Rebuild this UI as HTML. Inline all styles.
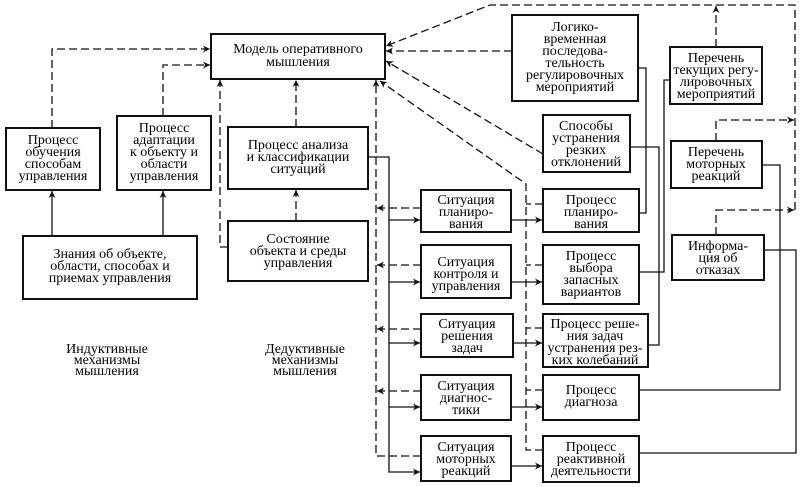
<!DOCTYPE html>
<html><head><meta charset="utf-8"><style>
html,body{margin:0;padding:0;background:#fff}
svg{display:block}
text{font-family:"Liberation Serif",serif;font-size:14px;fill:#000;text-anchor:middle}
.b{fill:#fff;stroke:#111;stroke-width:2}
.s{fill:none;stroke:#111;stroke-width:1.3}
.d{fill:none;stroke:#111;stroke-width:1.3;stroke-dasharray:8,4}
</style></head><body>
<svg width="800" height="487" viewBox="0 0 800 487" xmlns="http://www.w3.org/2000/svg">
<defs><marker id="a" viewBox="0 0 10 10" refX="10" refY="5" markerWidth="9" markerHeight="7" orient="auto" markerUnits="userSpaceOnUse"><path d="M0,0 L10,5 L0,10 L3,5 z" fill="#111"/></marker></defs>

<path class="d" d="M52,128 V49 H210" marker-end="url(#a)"/>
<path class="d" d="M163,116 V65 H210" marker-end="url(#a)"/>
<path class="s" d="M52,236 V191" marker-end="url(#a)"/>
<path class="s" d="M163,236 V191" marker-end="url(#a)"/>
<path class="d" d="M296,127 V80" marker-end="url(#a)"/>
<path class="d" d="M296,221 V190" marker-end="url(#a)"/>
<path class="d" d="M228,247 H220 V80" marker-end="url(#a)"/>

<path class="d" d="M421,456 H376 V80" marker-end="url(#a)"/>
<path class="s" d="M368,157 H389 V472 H420" marker-end="url(#a)"/>
<path class="d" d="M421,208 H377" marker-end="url(#a)"/>
<path class="d" d="M421,265 H377" marker-end="url(#a)"/>
<path class="d" d="M421,329 H377" marker-end="url(#a)"/>
<path class="d" d="M421,391 H377" marker-end="url(#a)"/>
<path class="s" d="M389,220 H420" marker-end="url(#a)"/>
<path class="s" d="M389,282 H420" marker-end="url(#a)"/>
<path class="s" d="M389,343 H420" marker-end="url(#a)"/>
<path class="s" d="M389,407 H420" marker-end="url(#a)"/>
<path class="s" d="M511,220 H542" marker-end="url(#a)"/>
<path class="s" d="M511,282 H542" marker-end="url(#a)"/>
<path class="s" d="M513,343 H542" marker-end="url(#a)"/>
<path class="s" d="M511,407 H542" marker-end="url(#a)"/>
<path class="s" d="M511,466 H542" marker-end="url(#a)"/>

<path class="d" d="M543,450 H526 V184 L380,81" marker-end="url(#a)"/>
<path class="d" d="M543,204 H526"/>
<path class="d" d="M543,265 H526"/>
<path class="d" d="M543,328 H526"/>
<path class="d" d="M543,390 H526"/>

<path class="d" d="M512,51 H386" marker-end="url(#a)" stroke-dasharray="10,3,2,3"/>
<path class="d" d="M543,154 L386,61" marker-end="url(#a)" stroke-dasharray="14,3"/>
<path class="d" d="M716,47 V6" marker-end="url(#a)"/>
<path class="d" d="M795,210 V5 H490 L386,46" marker-end="url(#a)"/>
<path class="d" d="M716,141 V120 H794" marker-end="url(#a)"/>
<path class="d" d="M716,235 V210 H794" marker-end="url(#a)"/>

<path class="s" d="M638,68 H646 V213 H639"/>
<path class="s" d="M630,147 H659 V345 H648"/>
<path class="s" d="M670,80 H664 V272 H639"/>
<path class="s" d="M762,165 H780 V390 H639"/>
<path class="s" d="M764,250 H796 V453 H639"/>

<rect class="b" x="211" y="34" width="174" height="45"/>
<text x="298" y="53">Модель оперативного</text><text x="298" y="66">мышления</text>

<rect class="b" x="6" y="128" width="94" height="62"/>
<text x="53" y="144">Процесс</text><text x="53" y="156">обучения</text><text x="53" y="168">способам</text><text x="53" y="180">управления</text>

<rect class="b" x="117" y="116" width="94" height="74"/>
<text x="164" y="132">Процесс</text><text x="164" y="144">адаптации</text><text x="164" y="156">к объекту и</text><text x="164" y="168">области</text><text x="164" y="180">управления</text>

<rect class="b" x="228" y="127" width="140" height="62"/>
<text x="298" y="149">Процесс анализа</text><text x="298" y="161">и классификации</text><text x="298" y="173">ситуаций</text>

<rect class="b" x="228" y="221" width="140" height="60"/>
<text x="298" y="243">Состояние</text><text x="298" y="255">объекта и среды</text><text x="298" y="267">управления</text>

<rect class="b" x="23" y="236" width="174" height="63"/>
<text x="110" y="258">Знания об объекте,</text><text x="110" y="270">области,  способах и</text><text x="110" y="282">приемах управления</text>

<text x="107" y="353">Индуктивные</text><text x="107" y="364">механизмы</text><text x="107" y="375">мышления</text>
<text x="305" y="353">Дедуктивные</text><text x="305" y="364">механизмы</text><text x="305" y="375">мышления</text>

<rect class="b" x="512" y="15" width="126" height="86"/>
<text x="575" y="31">Логико-</text><text x="575" y="43">временная</text><text x="575" y="55">последова-</text><text x="575" y="67">тельность</text><text x="575" y="79">регулировочных</text><text x="575" y="91">мероприятий</text>

<rect class="b" x="543" y="115" width="87" height="57"/>
<text x="586" y="130">Способы</text><text x="586" y="142">устранения</text><text x="586" y="154">резких</text><text x="586" y="166">отклонений</text>

<rect class="b" x="670" y="47" width="92" height="57"/>
<text x="716" y="62">Перечень</text><text x="716" y="74">текущих регу-</text><text x="716" y="86">лировочных</text><text x="716" y="98">мероприятий</text>

<rect class="b" x="671" y="141" width="91" height="47"/>
<text x="716" y="156">Перечень</text><text x="716" y="168">моторных</text><text x="716" y="180">реакций</text>

<rect class="b" x="672" y="235" width="92" height="45"/>
<text x="718" y="250">Информа-</text><text x="718" y="262">ция об</text><text x="718" y="274">отказах</text>

<rect class="b" x="421" y="190" width="90" height="42"/>
<text x="466" y="204">Ситуация</text><text x="466" y="216">планиро-</text><text x="466" y="228">вания</text>
<rect class="b" x="543" y="189" width="96" height="43"/>
<text x="591" y="204">Процесс</text><text x="591" y="216">планиро-</text><text x="591" y="228">вания</text>

<rect class="b" x="421" y="245" width="90" height="53"/>
<text x="466" y="266">Ситуация</text><text x="466" y="278">контроля и</text><text x="466" y="290">управления</text>
<rect class="b" x="543" y="245" width="96" height="59"/>
<text x="591" y="260">Процесс</text><text x="591" y="272">выбора</text><text x="591" y="284">запасных</text><text x="591" y="296">вариантов</text>

<rect class="b" x="421" y="314" width="92" height="43"/>
<text x="467" y="328">Ситуация</text><text x="467" y="340">решения</text><text x="467" y="352">задач</text>
<rect class="b" x="543" y="314" width="105" height="53"/>
<text x="595" y="328">Процесс реше-</text><text x="595" y="340">ния задач</text><text x="595" y="352">устранения рез-</text><text x="595" y="364">ких колебаний</text>

<rect class="b" x="421" y="375" width="90" height="45"/>
<text x="466" y="390">Ситуация</text><text x="466" y="402">диагнос-</text><text x="466" y="414">тики</text>
<rect class="b" x="543" y="375" width="96" height="45"/>
<text x="591" y="394">Процесс</text><text x="591" y="406">диагноза</text>

<rect class="b" x="421" y="436" width="90" height="45"/>
<text x="466" y="451">Ситуация</text><text x="466" y="463">моторных</text><text x="466" y="475">реакций</text>
<rect class="b" x="543" y="436" width="96" height="46"/>
<text x="591" y="451">Процесс</text><text x="591" y="463">реактивной</text><text x="591" y="475">деятельности</text>
</svg>
</body></html>
